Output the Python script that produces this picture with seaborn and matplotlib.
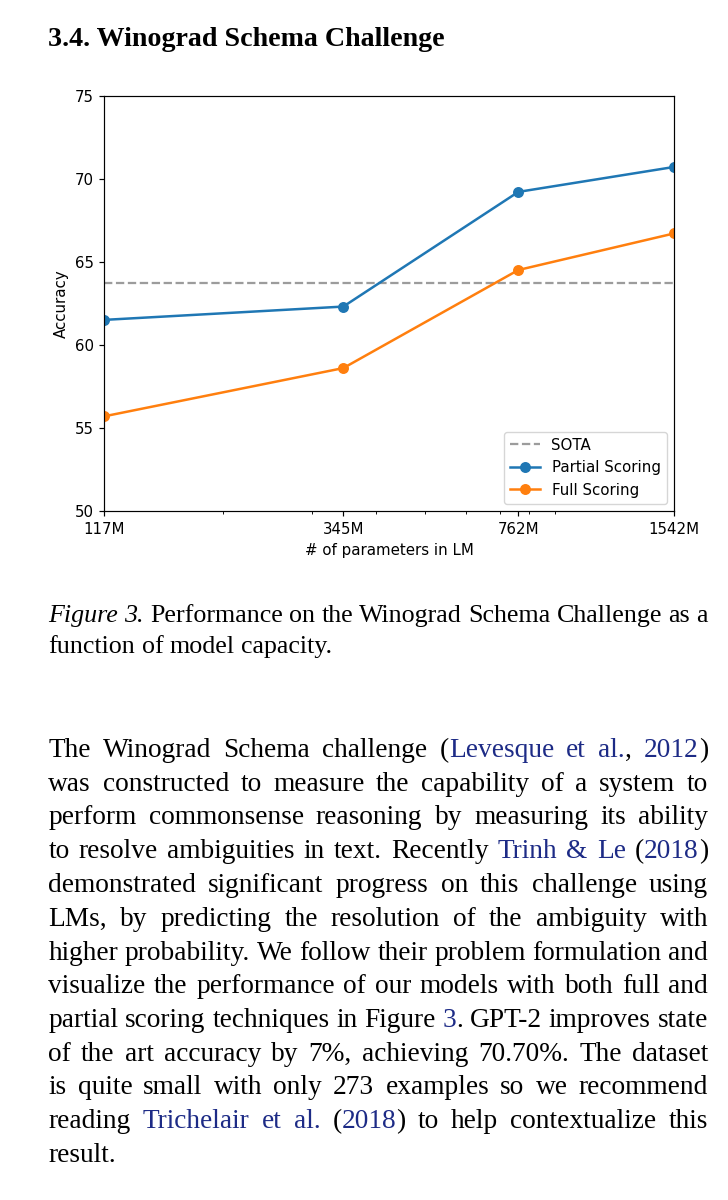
import matplotlib
matplotlib.use("Agg")
import matplotlib.pyplot as plt
import seaborn as sns
import numpy as np
import pandas as pd
from matplotlib.ticker import NullFormatter

# ---------------- data ----------------
model_sizes = [117, 345, 762, 1542]
size_labels = ["117M", "345M", "762M", "1542M"]
partial_scoring = [61.5, 62.3, 69.2, 70.7]
full_scoring = [55.7, 58.6, 64.5, 66.7]
sota_accuracy = 63.7
y_ticks = [50, 55, 60, 65, 70, 75]

title_text = "3.4. Winograd Schema Challenge"
caption_lines = [
    "Figure 3. Performance on the Winograd Schema Challenge as a",
    "function of model capacity.",
]
paragraph_lines = [
    "The Winograd Schema challenge ({Levesque et al.}, {2012})",
    "was constructed to measure the capability of a system to",
    "perform commonsense reasoning by measuring its ability",
    "to resolve ambiguities in text. Recently {Trinh & Le} ({2018})",
    "demonstrated significant progress on this challenge using",
    "LMs, by predicting the resolution of the ambiguity with",
    "higher probability. We follow their problem formulation and",
    "visualize the performance of our models with both full and",
    "partial scoring techniques in Figure {3}. GPT-2 improves state",
    "of the art accuracy by 7%, achieving 70.70%. The dataset",
    "is quite small with only 273 examples so we recommend",
    "reading {Trichelair et al.} ({2018}) to help contextualize this",
    "result.",
]

# ---------------- figure ----------------
W, H = 728, 1200
fig = plt.figure(figsize=(W / 100, H / 100), dpi=100)
fig.patch.set_facecolor("white")
renderer = fig.canvas.get_renderer()

SERIF = "Liberation Serif"
LINK = "#1d2b86"
FS = 10.8  # chart font size

# ---------------- chart ----------------
ax = fig.add_axes([104.5 / W, 1 - 511 / H, (674 - 104.5) / W, (511 - 95.5) / H])
ax.set_xscale("log")

ax.axhline(sota_accuracy, color="#9c9c9c", linestyle="--", linewidth=1.62, label="SOTA")
sns.lineplot(x=model_sizes, y=partial_scoring, ax=ax, color="#1f77b4", marker="o",
             markersize=6.8, linewidth=1.8, label="Partial Scoring")
sns.lineplot(x=model_sizes, y=full_scoring, ax=ax, color="#ff7f0e", marker="o",
             markersize=6.8, linewidth=1.8, label="Full Scoring")
for ln in ax.lines[1:]:
    ln.set_markeredgecolor(ln.get_color())
    ln.set_markerfacecolor(ln.get_color())
    ln.set_markeredgewidth(1.08)

ax.set_xlim(model_sizes[0], model_sizes[-1])
ax.set_ylim(y_ticks[0], y_ticks[-1])
ax.set_xticks(model_sizes)
ax.set_xticklabels(size_labels)
ax.xaxis.set_minor_formatter(NullFormatter())
ax.set_yticks(y_ticks)
ax.set_xlabel("# of parameters in LM", fontsize=FS, labelpad=4.3)
ax.set_ylabel("Accuracy", fontsize=FS, labelpad=4.3)
ax.tick_params(axis="both", which="major", labelsize=FS, length=3.8, width=0.86, pad=3.8)
ax.tick_params(axis="both", which="minor", length=2.16, width=0.65)
for sp in ax.spines.values():
    sp.set_linewidth(0.86)
ax.legend(loc="lower right", fontsize=FS)

# ---------------- text helpers ----------------
def measure(s, **kw):
    t = fig.text(0, 0, s, **kw)
    w = t.get_window_extent(renderer).width
    t.remove()
    return w


def parse(line):
    words = [[]]
    buf = ""
    link = False
    for ch in line:
        if ch in "{} ":
            if buf:
                words[-1].append((buf, link))
                buf = ""
            if ch == "{":
                link = True
            elif ch == "}":
                link = False
            else:
                words.append([])
        else:
            buf += ch
    if buf:
        words[-1].append((buf, link))
    return [w for w in words if w]


def word_items(line, size, italic_n=0):
    words = parse(line)
    items = []
    for i, w in enumerate(words):
        style = "italic" if i < italic_n else "normal"
        base = dict(fontsize=size, family=SERIF, style=style)
        full = "".join(s for s, _ in w)
        wwidth = measure(full, **base)
        segs = []
        prefix = ""
        for s, link in w:
            off = measure(prefix + s, **base) - measure(s, **base) if prefix else 0.0
            segs.append((s, off, LINK if link else "black"))
            prefix += s
        items.append((segs, wwidth, base))
    return items


def natural_width(line, size, italic_n=0, space_em=0.23):
    items = word_items(line, size, italic_n)
    return sum(it[1] for it in items) + (len(items) - 1) * space_em * size * 100 / 72


def draw_line(line, y, size, x0=48.3, x1=708.0, justify=True, italic_n=0):
    items = word_items(line, size, italic_n)
    total = sum(it[1] for it in items)
    n = len(items)
    if justify and n > 1:
        gap = (x1 - x0 - total) / (n - 1)
    else:
        gap = 0.25 * size * 100 / 72
    x = x0
    for segs, wwidth, base in items:
        for s, off, col in segs:
            fig.text((x + off) / W, 1 - y / H, s, color=col, ha="left", va="baseline", **base)
        x += wwidth + gap


TEXT_W = 708.0 - 48.3

# ---------------- title ----------------
tsize = 20 * 397.5 / measure(title_text, fontsize=20, family=SERIF, fontweight="bold")
fig.text(48.3 / W, 1 - 45.7 / H, title_text, fontsize=tsize, family=SERIF,
         fontweight="bold", ha="left", va="baseline")

# ---------------- caption ----------------
ref = 18.0
cap_size = ref * TEXT_W / natural_width(caption_lines[0], ref, italic_n=2)
cap_y = [622, 653]
for i, line in enumerate(caption_lines):
    draw_line(line, cap_y[i], cap_size, justify=(i < len(caption_lines) - 1),
              italic_n=2 if i == 0 else 0)

# ---------------- paragraph ----------------
widest = max(natural_width(l, ref) for l in paragraph_lines[:-1])
par_size = ref * TEXT_W / widest
for i, line in enumerate(paragraph_lines):
    draw_line(line, 757 + 33.75 * i, par_size, justify=(i < len(paragraph_lines) - 1))

fig.savefig("out.png", dpi=100, facecolor="white")
